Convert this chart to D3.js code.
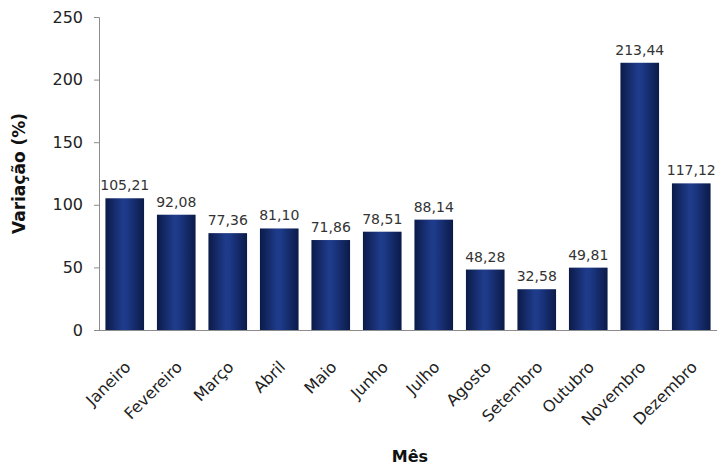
<!DOCTYPE html>
<html>
<head>
<meta charset="utf-8">
<script src="https://cdn.jsdelivr.net/npm/d3@7"></script>
<style>
  body { margin: 0; background: #fff; }
  text { font-family: "DejaVu Sans", Verdana, sans-serif; }
</style>
</head>
<body>
<script>
var months = ["Janeiro", "Fevereiro", "Março", "Abril", "Maio", "Junho",
              "Julho", "Agosto", "Setembro", "Outubro", "Novembro", "Dezembro"];
var values = [105.21, 92.08, 77.36, 81.10, 71.86, 78.51,
              88.14, 48.28, 32.58, 49.81, 213.44, 117.12];
var yTicks = [0, 50, 100, 150, 200, 250];

var width = 721, height = 468,
    plotLeft = 99, plotRight = 717, plotTop = 17, plotBottom = 330;

var svg = d3.select("body").append("svg")
    .attr("width", width)
    .attr("height", height);

// bar shading: dark edges, lighter middle
var grad = svg.append("defs").append("linearGradient")
    .attr("id", "barGrad")
    .attr("x1", "0%").attr("x2", "100%").attr("y1", "0%").attr("y2", "0%");
grad.append("stop").attr("offset", "0%").attr("stop-color", "#0b1a48");
grad.append("stop").attr("offset", "45%").attr("stop-color", "#1f3c8c");
grad.append("stop").attr("offset", "55%").attr("stop-color", "#1d3a88");
grad.append("stop").attr("offset", "100%").attr("stop-color", "#0b1a48");

var x = d3.scaleBand()
    .domain(months)
    .range([plotLeft, plotRight])
    .paddingInner(0.25)
    .paddingOuter(0.125);

var y = d3.scaleLinear()
    .domain([0, 250])
    .range([plotBottom, plotTop]);

// y axis
var yAxis = svg.append("g")
    .attr("transform", "translate(" + plotLeft + ",0)")
    .call(d3.axisLeft(y).tickValues(yTicks).tickSize(5).tickPadding(11));
yAxis.select(".domain").attr("stroke", "#8c8c8c");
yAxis.selectAll(".tick line").attr("stroke", "#8c8c8c");
yAxis.selectAll(".tick text")
    .style("font-size", "16px")
    .attr("fill", "#222");

// x axis
var xAxis = svg.append("g")
    .attr("transform", "translate(0," + plotBottom + ")")
    .call(d3.axisBottom(x).tickSize(0).tickSizeOuter(0));
xAxis.select(".domain").attr("stroke", "#8c8c8c").attr("d", "M" + (plotLeft - 5) + ",0.5H" + plotRight);
xAxis.selectAll(".tick text")
    .style("font-size", "16px")
    .attr("fill", "#222")
    .attr("text-anchor", "end")
    .attr("x", 0)
    .attr("y", 0)
    .attr("dy", "0.35em")
    .attr("transform", "translate(3,34)rotate(-45)");

// bars
svg.selectAll(".bar")
    .data(values)
    .enter().append("rect")
    .attr("class", "bar")
    .attr("x", function (d, i) { return x(months[i]); })
    .attr("y", function (d) { return y(d); })
    .attr("width", x.bandwidth())
    .attr("height", function (d) { return y(0) - y(d); })
    .attr("fill", "url(#barGrad)");

// value labels
svg.selectAll(".val")
    .data(values)
    .enter().append("text")
    .attr("class", "val")
    .attr("x", function (d, i) { return x(months[i]) + x.bandwidth() / 2; })
    .attr("y", function (d) { return y(d) - 8; })
    .attr("text-anchor", "middle")
    .style("font-size", "14px")
    .attr("fill", "#333")
    .text(function (d) { return d.toFixed(2).replace(".", ","); });

// axis titles
svg.append("text")
    .attr("transform", "translate(25," + ((plotTop + plotBottom) / 2) + ")rotate(-90)")
    .attr("text-anchor", "middle")
    .style("font-size", "17px")
    .style("font-weight", "bold")
    .attr("fill", "#111")
    .text("Variação (%)");

svg.append("text")
    .attr("x", 410)
    .attr("y", 462)
    .attr("text-anchor", "middle")
    .style("font-size", "16px")
    .style("font-weight", "bold")
    .attr("fill", "#111")
    .text("Mês");
</script>
</body>
</html>
